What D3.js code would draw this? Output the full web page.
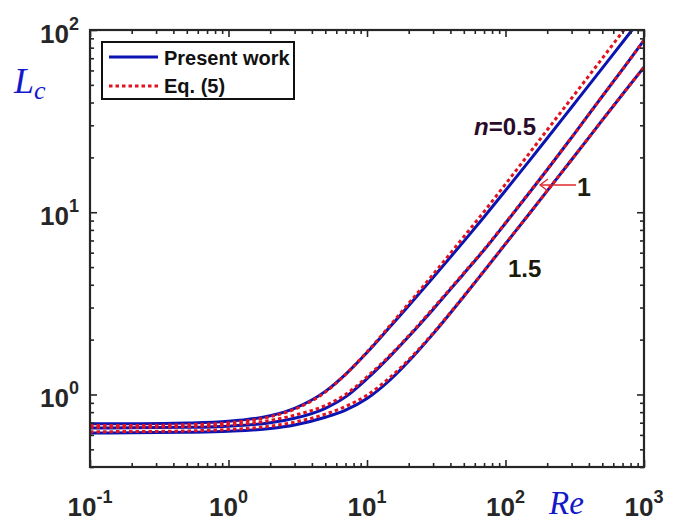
<!DOCTYPE html>
<html>
<head>
<meta charset="utf-8">
<script src="https://cdn.jsdelivr.net/npm/d3@7"></script>
<style>
  html, body { margin: 0; padding: 0; background: #fff; }
  svg { display: block; }
</style>
</head>
<body>
<svg id="chart" width="681" height="522"></svg>
<script>
// Reynolds numbers at which the entrance length is tabulated
const reynolds = [0.1, 0.2, 0.5, 1, 2, 3, 5, 7, 10, 15, 20, 30, 50, 70, 100, 150, 200, 300, 500, 700, 1000];

// Present work: entrance length Lc for power-law index n
const presentN05 = [0.690, 0.691, 0.697, 0.712, 0.765, 0.84, 1.04, 1.29, 1.70, 2.40, 3.07, 4.38, 6.92, 9.42, 13.15, 19.33, 25.48, 37.7, 61.8, 85.7, 121.1];
const presentN10 = [0.655, 0.656, 0.660, 0.670, 0.700, 0.74, 0.84, 0.97, 1.22, 1.65, 2.08, 2.93, 4.60, 6.2, 8.7, 12.9, 17.1, 25.7, 43.3, 60.8, 87.8];
const presentN15 = [0.615, 0.616, 0.620, 0.628, 0.650, 0.68, 0.75, 0.82, 0.95, 1.22, 1.52, 2.15, 3.45, 4.75, 6.7, 9.9, 13.1, 19.4, 32.0, 44.4, 62.6];

// Eq. (5) correlation
const eqN05 = [0.675, 0.676, 0.683, 0.700, 0.755, 0.83, 1.03, 1.29, 1.71, 2.44, 3.16, 4.56, 7.34, 10.08, 14.27, 21.26, 28.28, 42.2, 69.9, 97.7, 138.7];
const eqN10 = [0.660, 0.661, 0.667, 0.680, 0.720, 0.77, 0.87, 1.00, 1.25, 1.67, 2.10, 2.97, 4.64, 6.25, 8.75, 12.95, 17.15, 25.7, 43.3, 60.8, 87.8];
const eqN15 = [0.625, 0.626, 0.631, 0.642, 0.670, 0.705, 0.78, 0.86, 0.99, 1.26, 1.55, 2.17, 3.47, 4.77, 6.72, 9.9, 13.1, 19.4, 32.0, 44.4, 62.6];

// Axis ticks
const xMajor = [0.1, 1, 10, 100, 1000];
const xMajorExp = ["-1", "0", "1", "2", "3"];
const yMajor = [1, 10, 100];
const yMajorExp = ["0", "1", "2"];

const legendLabels = ["Present work", "Eq. (5)"];

const blue = "#0b14b0";
const red = "#e3121f";
const axisColor = "#262626";

const svg = d3.select("#chart");
const plotLeft = 90, plotRight = 644, plotTop = 30, plotBottom = 467;

const x = d3.scaleLog().domain([0.1, 1000]).range([plotLeft, plotRight]);
const y = d3.scaleLog().domain([0.4, 100]).range([plotBottom, plotTop]);

// minor ticks of each decade
function minorTicks(scale) {
  const [d0, d1] = scale.domain();
  const out = [];
  for (let e = Math.floor(Math.log10(d0)); e < Math.ceil(Math.log10(d1)); e++) {
    for (let k = 2; k <= 9; k++) {
      const v = k * Math.pow(10, e);
      if (v >= d0 * 0.999 && v <= d1 * 1.001) out.push(v);
    }
  }
  return out;
}
const xMinor = minorTicks(x);
const yMinor = minorTicks(y);

svg.append("clipPath").attr("id", "plot-clip")
  .append("rect").attr("x", plotLeft).attr("y", plotTop)
  .attr("width", plotRight - plotLeft).attr("height", plotBottom - plotTop);

// curves
const line = d3.line()
  .x(d => x(d[0]))
  .y(d => y(d[1]))
  .curve(d3.curveMonotoneX);

const curves = svg.append("g").attr("clip-path", "url(#plot-clip)");
[presentN05, presentN10, presentN15].forEach(series => {
  curves.append("path")
    .attr("d", line(reynolds.map((r, i) => [r, series[i]])))
    .attr("fill", "none").attr("stroke", blue).attr("stroke-width", 3);
});
[eqN05, eqN10, eqN15].forEach(series => {
  curves.append("path")
    .attr("d", line(reynolds.map((r, i) => [r, series[i]])))
    .attr("fill", "none").attr("stroke", red).attr("stroke-width", 3)
    .attr("stroke-dasharray", "3.5,3");
});

// axes with inward ticks on all four sides
function styleAxis(g) {
  g.select(".domain").remove();
  g.selectAll(".tick line").attr("stroke", axisColor).attr("stroke-width", 1.6);
  g.selectAll(".tick text").remove();
}
const axes = svg.append("g");
axes.append("g").attr("transform", `translate(0,${plotBottom})`)
  .call(d3.axisBottom(x).tickValues(xMajor).tickSize(-7).tickFormat("")).call(styleAxis);
axes.append("g").attr("transform", `translate(0,${plotBottom})`)
  .call(d3.axisBottom(x).tickValues(xMinor).tickSize(-4).tickFormat("")).call(styleAxis);
axes.append("g").attr("transform", `translate(0,${plotTop})`)
  .call(d3.axisTop(x).tickValues(xMajor).tickSize(-7).tickFormat("")).call(styleAxis);
axes.append("g").attr("transform", `translate(0,${plotTop})`)
  .call(d3.axisTop(x).tickValues(xMinor).tickSize(-4).tickFormat("")).call(styleAxis);
axes.append("g").attr("transform", `translate(${plotLeft},0)`)
  .call(d3.axisLeft(y).tickValues(yMajor).tickSize(-7).tickFormat("")).call(styleAxis);
axes.append("g").attr("transform", `translate(${plotLeft},0)`)
  .call(d3.axisLeft(y).tickValues(yMinor).tickSize(-4).tickFormat("")).call(styleAxis);
axes.append("g").attr("transform", `translate(${plotRight},0)`)
  .call(d3.axisRight(y).tickValues(yMajor).tickSize(-7).tickFormat("")).call(styleAxis);
axes.append("g").attr("transform", `translate(${plotRight},0)`)
  .call(d3.axisRight(y).tickValues(yMinor).tickSize(-4).tickFormat("")).call(styleAxis);

svg.append("rect").attr("x", plotLeft).attr("y", plotTop)
  .attr("width", plotRight - plotLeft).attr("height", plotBottom - plotTop)
  .attr("fill", "none").attr("stroke", axisColor).attr("stroke-width", 2.2);

// power-of-ten tick labels
const labelFont = "'Liberation Sans', Arial, sans-serif";
xMajor.forEach((v, i) => {
  const t = svg.append("text")
    .attr("x", x(v)).attr("y", 516)
    .attr("text-anchor", "middle")
    .attr("font-family", labelFont).attr("font-weight", "bold")
    .attr("font-size", 26).attr("fill", axisColor);
  t.append("tspan").text("10");
  t.append("tspan").attr("dy", -13).attr("font-size", 18).text(xMajorExp[i]);
});
yMajor.forEach((v, i) => {
  const t = svg.append("text")
    .attr("x", 79).attr("y", y(v) + 13)
    .attr("text-anchor", "end")
    .attr("font-family", labelFont).attr("font-weight", "bold")
    .attr("font-size", 26).attr("fill", axisColor);
  t.append("tspan").text("10");
  t.append("tspan").attr("dy", -13).attr("font-size", 18).text(yMajorExp[i]);
});

// axis titles
const mathFont = "'Liberation Serif', 'DejaVu Serif', serif";
const yTitle = svg.append("text").attr("x", 14).attr("y", 93)
  .attr("font-family", mathFont).attr("font-style", "italic")
  .attr("font-size", 36).attr("fill", "#1418c8");
yTitle.append("tspan").text("L");
yTitle.append("tspan").attr("dy", 6).attr("font-size", 26).text("c");

svg.append("text").attr("x", 549).attr("y", 514)
  .attr("font-family", mathFont).attr("font-style", "italic")
  .attr("font-size", 33).attr("fill", "#1418c8").text("Re");

// legend
const legend = svg.append("g");
legend.append("rect").attr("x", 102).attr("y", 42).attr("width", 192).attr("height", 57)
  .attr("fill", "#fff").attr("stroke", "#111").attr("stroke-width", 2);
legend.append("line").attr("x1", 109).attr("x2", 158).attr("y1", 57).attr("y2", 57)
  .attr("stroke", blue).attr("stroke-width", 3);
legend.append("line").attr("x1", 109).attr("x2", 158).attr("y1", 86).attr("y2", 86)
  .attr("stroke", red).attr("stroke-width", 3).attr("stroke-dasharray", "3.5,3");
legendLabels.forEach((s, i) => {
  legend.append("text").attr("x", 164).attr("y", 65 + i * 28)
    .attr("font-family", labelFont).attr("font-weight", "bold")
    .attr("font-size", 20).attr("fill", "#111").text(s);
});

// curve annotations
const nLabel = svg.append("text").attr("x", 474).attr("y", 135)
  .attr("font-family", labelFont).attr("font-weight", "bold")
  .attr("font-size", 24).attr("fill", "#2a0c2a");
nLabel.append("tspan").attr("font-style", "italic").text("n");
nLabel.append("tspan").text("=0.5");

svg.append("text").attr("x", 577).attr("y", 196)
  .attr("font-family", labelFont).attr("font-weight", "bold")
  .attr("font-size", 25).attr("fill", "#1e1e10").text("1");

svg.append("text").attr("x", 508).attr("y", 277)
  .attr("font-family", labelFont).attr("font-weight", "bold")
  .attr("font-size", 24).attr("fill", "#1a1a08").text("1.5");

// arrow pointing at the n = 1 curve
const arrow = svg.append("g").attr("stroke", "#e0282c").attr("stroke-width", 1.3).attr("fill", "none");
arrow.append("line").attr("x1", 576).attr("y1", 185).attr("x2", 540).attr("y2", 185);
arrow.append("path").attr("d", "M548,179 L540,185 L548,191");
</script>
</body>
</html>
